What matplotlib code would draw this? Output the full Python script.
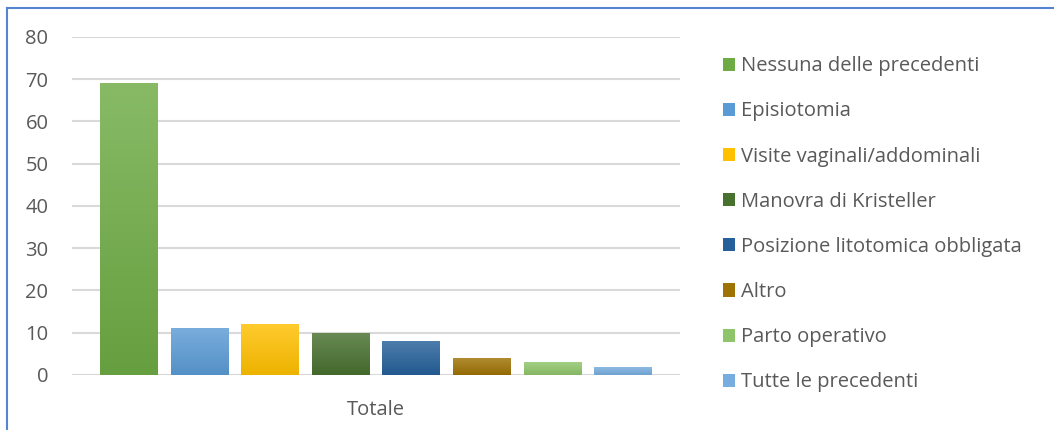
import numpy as np
import matplotlib
matplotlib.use("Agg")
import matplotlib.pyplot as plt
from matplotlib.lines import Line2D
from matplotlib.patches import Patch
from matplotlib.colors import LinearSegmentedColormap, to_rgb

# dati
categorie = ["Nessuna delle precedenti", "Episiotomia", "Visite vaginali/addominali",
             "Manovra di Kristeller", "Posizione litotomica obbligata", "Altro",
             "Parto operativo", "Tutte le precedenti"]
valori = [69, 11, 12, 10, 8, 4, 3, 2]
colori = ["#6EAB44", "#5B9BD5", "#FFC000", "#48702F", "#25609A", "#9E7204", "#8FC56A", "#78AEDF"]
etichetta_x = "Totale"

plt.rcParams['font.family'] = ['Open Sans', 'DejaVu Sans']
grigio = "#595959"
fs = 14.5

fig = plt.figure(figsize=(10.54, 4.30), dpi=100)
ax = fig.add_axes([0.0683, 0.128, 0.577, 0.786])

x = np.arange(len(valori))
barre = ax.bar(x, valori, width=0.82, color=colori, zorder=3)

# leggero gradiente sulle barre (più chiaro in alto)
for b, c in zip(barre, colori):
    r, g, bl = to_rgb(c)
    chiaro = tuple(min(1, v + (1 - v) * 0.18) for v in (r, g, bl))
    scuro = tuple(v * 0.93 for v in (r, g, bl))
    cmap = LinearSegmentedColormap.from_list("g", [scuro, chiaro])
    x0, y0 = b.get_x(), b.get_y()
    w, h = b.get_width(), b.get_height()
    img = ax.imshow(np.linspace(0, 1, 100).reshape(-1, 1), cmap=cmap, origin="lower",
                    extent=[x0, x0 + w, y0, y0 + h], aspect="auto", zorder=3.5)
    img.set_clip_path(b)

ax.set_xlim(-0.806, len(valori) - 1 + 0.806)
ax.set_ylim(0, 80)
ax.set_yticks(range(0, 81, 10))
ax.yaxis.grid(True, color="#D9D9D9", linewidth=1.5, zorder=0)
ax.set_axisbelow(True)
for s in ax.spines.values():
    s.set_visible(False)
ax.tick_params(axis="y", length=0, pad=17, labelsize=fs, labelcolor=grigio)
ax.set_xticks([(len(valori) - 1) / 2])
ax.set_xticklabels([etichetta_x])
ax.tick_params(axis="x", length=0, pad=18, labelsize=fs, labelcolor=grigio)

handles = [Patch(facecolor=c) for c in colori]
fig.legend(handles, categorie, loc="upper left", bbox_to_anchor=(0.678, 0.888),
           frameon=False, fontsize=fs, labelcolor=grigio, handlelength=0.62,
           handleheight=0.62, handletextpad=0.3, labelspacing=1.25, borderaxespad=0)

# bordo del grafico
fig.add_artist(Line2D([7 / 1054, 1], [1 - 8 / 430, 1 - 8 / 430], color="#5585D0", linewidth=1.5))
fig.add_artist(Line2D([7 / 1054, 7 / 1054], [0, 1 - 8 / 430], color="#5585D0", linewidth=1.5))

fig.savefig("out.png", dpi=100)
